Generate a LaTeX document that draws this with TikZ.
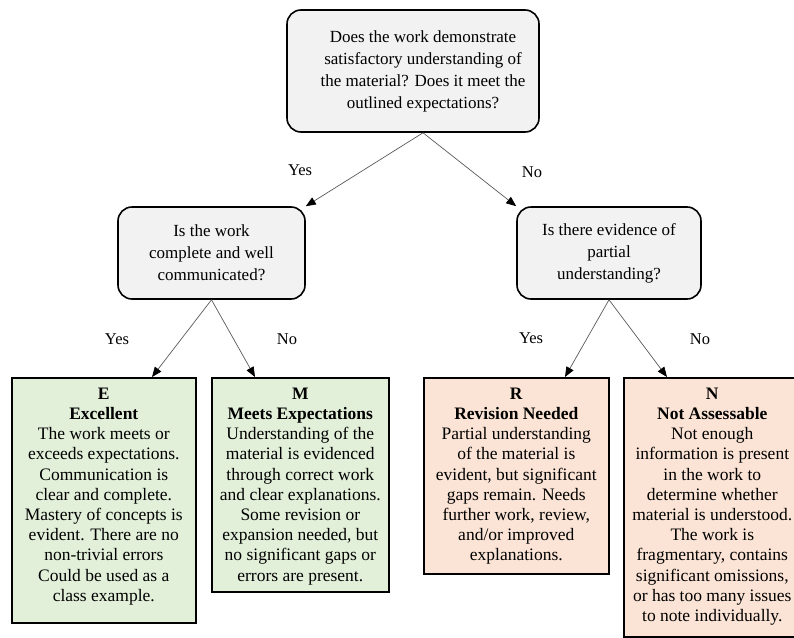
\documentclass[tikz,border=0pt]{standalone}
\usepackage{fontspec}
\setmainfont{Liberation Serif}
\usetikzlibrary{arrows.meta,calc}
\definecolor{qgray}{HTML}{F2F2F2}
\definecolor{okgreen}{HTML}{E2EFD9}
\definecolor{nopink}{HTML}{FBE4D5}
\newcommand{\resbox}[3]{\parbox[c][#2pt][t]{#1pt}{\centering\vspace*{10pt}#3\par}}
\begin{document}
\begin{tikzpicture}[x=1pt,y=-1pt,
  q/.style={draw=black, line width=1.6pt, rounded corners=14pt, fill=qgray, align=center,
    font=\fontsize{17}{22}\selectfont, inner sep=0pt},
  res/.style={draw=black, line width=1.6pt, anchor=north west, inner sep=0pt,
    font=\fontsize{17.5}{20.2}\selectfont},
  conn/.style={draw=black!65, line width=0.7pt, -{Triangle[length=10pt,width=8pt,color=black]}},
  lab/.style={font=\fontsize{16.5}{20}\selectfont, inner sep=0pt}]
\useasboundingbox (0,0) rectangle (794,637);

\node[q, minimum width=252pt, minimum height=122pt] (top) at (413,71)
  {\hspace*{20pt}\parbox{228pt}{\centering Does the work demonstrate\\satisfactory understanding of\\the material? Does it meet the\\outlined expectations?}};
\node[q, minimum width=187pt, minimum height=92pt] (lq) at (211.5,253)
  {Is the work\\complete and well\\communicated?};
\node[q, minimum width=184pt, minimum height=92pt] (rq) at (609,253)
  {Is there evidence of\\partial\\understanding?};

\node[res, fill=okgreen] (E) at (11,377) {\resbox{184}{245}{\textbf{E}\\\textbf{Excellent}\\The work meets or\\exceeds expectations.\\Communication is\\clear and complete.\\Mastery of concepts is\\evident. There are no\\non-trivial errors\\Could be used as a\\class example.}};
\node[res, fill=okgreen] (M) at (211,377) {\resbox{177}{214}{\textbf{M}\\\textbf{Meets Expectations}\\Understanding of the\\material is evidenced\\through correct work\\and clear explanations.\\Some revision or\\expansion needed, but\\no significant gaps or\\errors are present.}};
\node[res, fill=nopink] (R) at (423,377) {\resbox{185}{196}{\textbf{R}\\\textbf{Revision Needed}\\Partial understanding\\of the material is\\evident, but significant\\gaps remain. Needs\\further work, review,\\and/or improved\\explanations.}};
\node[res, fill=nopink] (N) at (623,377) {\resbox{177}{259}{\textbf{N}\\\textbf{Not Assessable}\\Not enough\\information is present\\in the work to\\determine whether\\material is understood.\\The work is\\fragmentary, contains\\significant omissions,\\or has too many issues\\to note individually.}};

\draw[conn] ([xshift=10pt]top.south) -- (lq.north east);
\draw[conn] ([xshift=10pt]top.south) -- (rq.north west);
\draw[conn] (lq.south) -- ([xshift=141pt]E.north west);
\draw[conn] (lq.south) -- ([xshift=44pt]M.north west);
\draw[conn] (rq.south) -- ([xshift=142pt]R.north west);
\draw[conn] (rq.south) -- ([xshift=44pt]N.north west);

\node[lab] (l1) at (300,170) {Yes};
\node[lab] (l2) at (532,172) {No};
\node[lab] (l3) at (117,339) {Yes};
\node[lab] (l4) at (287,339) {No};
\node[lab] (l5) at (531,338) {Yes};
\node[lab] (l6) at (700,339) {No};
\end{tikzpicture}
\end{document}
